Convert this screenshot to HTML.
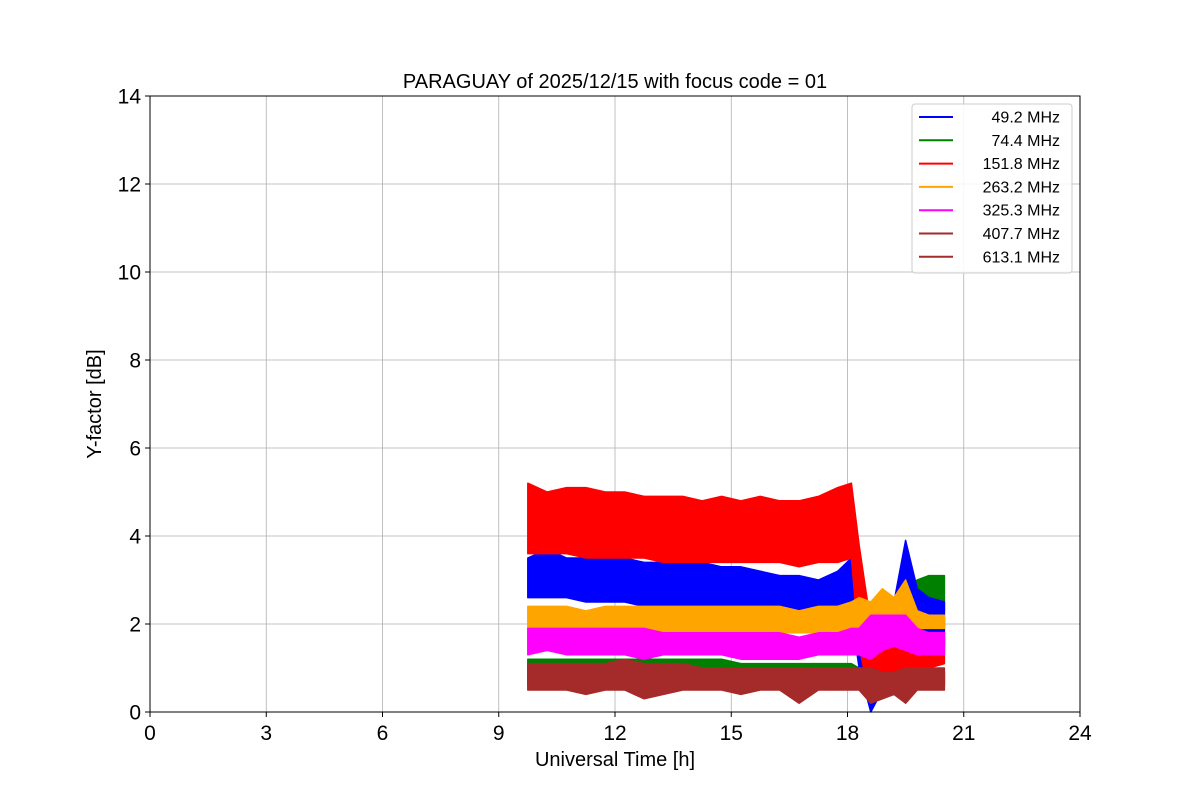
<!DOCTYPE html>
<html><head><meta charset="utf-8"><style>
body{margin:0;background:#fff;}
svg text{font-family:"Liberation Sans","DejaVu Sans",sans-serif;}
</style></head><body>
<svg width="1200" height="800" xmlns="http://www.w3.org/2000/svg">
<rect width="1200" height="800" fill="#fff"/>
<g id="grid"></g>
<g id="series"></g>
<rect x="150" y="96" width="930" height="616" fill="none" stroke="#000" stroke-width="1"/>
<g id="ticks"></g>
<text x="615" y="88" text-anchor="middle" font-size="20">PARAGUAY of 2025/12/15 with focus code = 01</text>
<text x="615" y="766" text-anchor="middle" font-size="20">Universal Time [h]</text>
<text x="101" y="404" text-anchor="middle" font-size="20" transform="rotate(-90 101 404)">Y-factor [dB]</text>
<g id="legend"></g>
</svg>
<script>
const xTicks=[0,3,6,9,12,15,18,21,24];
const yTicks=[0,2,4,6,8,10,12,14];
const seriesNames=[" 49.2 MHz"," 74.4 MHz","151.8 MHz","263.2 MHz","325.3 MHz","407.7 MHz","613.1 MHz"];
const seriesColors=["blue","green","red","orange","magenta","brown","brown"];
const times=[9.75,10.25,10.75,11.25,11.75,12.25,12.75,13.25,13.75,14.25,14.75,15.25,15.75,16.25,16.75,17.25,17.75,18.1,18.3,18.6,18.9,19.2,19.5,19.8,20.1,20.5];
const blueLo=[2.6,2.6,2.6,2.5,2.5,2.5,2.4,2.4,2.4,2.4,2.3,2.3,2.2,2.2,2.1,2.1,2.1,2.2,1.0,0.0,0.5,1.0,1.2,1.5,1.6,1.5];
const blueHi=[3.5,3.7,3.5,3.5,3.6,3.5,3.4,3.4,3.4,3.4,3.3,3.3,3.2,3.1,3.1,3.0,3.2,3.5,3.0,1.2,2.7,2.5,3.9,2.8,2.6,2.5];
const greenLo=[0.9,0.9,0.9,0.9,0.9,0.9,0.8,0.8,0.8,0.8,0.8,0.8,0.8,0.7,0.7,0.7,0.7,0.7,0.6,0.3,0.6,0.8,1.2,2.0,2.2,2.3];
const greenHi=[1.2,1.2,1.2,1.2,1.2,1.2,1.2,1.2,1.2,1.2,1.2,1.1,1.1,1.1,1.1,1.1,1.1,1.1,1.0,1.2,1.6,2.0,2.8,3.0,3.1,3.1];
const redLo=[3.6,3.6,3.6,3.5,3.5,3.5,3.5,3.4,3.4,3.4,3.4,3.4,3.4,3.4,3.3,3.4,3.4,3.5,1.5,0.2,0.8,0.9,1.0,1.0,1.0,1.1];
const redHi=[5.2,5.0,5.1,5.1,5.0,5.0,4.9,4.9,4.9,4.8,4.9,4.8,4.9,4.8,4.8,4.9,5.1,5.2,3.8,2.0,2.3,1.8,2.2,1.8,1.7,1.7];
const orangeLo=[1.9,1.9,1.9,1.9,1.8,1.9,1.9,1.8,1.8,1.8,1.8,1.8,1.7,1.8,1.8,1.8,1.8,1.8,1.9,2.0,2.0,2.0,2.1,1.9,1.9,1.9];
const orangeHi=[2.4,2.4,2.4,2.3,2.4,2.4,2.4,2.4,2.4,2.4,2.4,2.4,2.4,2.4,2.3,2.4,2.4,2.5,2.6,2.5,2.8,2.6,3.0,2.3,2.2,2.2];
const magentaLo=[1.3,1.4,1.3,1.3,1.3,1.3,1.2,1.3,1.3,1.3,1.3,1.2,1.2,1.2,1.2,1.3,1.3,1.3,1.3,1.2,1.4,1.5,1.4,1.3,1.3,1.3];
const magentaHi=[1.9,1.9,1.9,1.9,1.9,1.9,1.9,1.8,1.8,1.8,1.8,1.8,1.8,1.8,1.7,1.8,1.8,1.9,1.9,2.2,2.2,2.2,2.2,1.9,1.8,1.8];
const b1Lo=[0.5,0.5,0.5,0.4,0.5,0.5,0.3,0.4,0.5,0.5,0.5,0.4,0.5,0.5,0.2,0.5,0.5,0.5,0.5,0.2,0.3,0.4,0.2,0.5,0.5,0.5];
const b1Hi=[1.1,1.1,1.1,1.1,1.1,1.2,1.1,1.1,1.1,1.0,1.0,1.0,1.0,1.0,1.0,1.0,1.0,1.0,1.0,1.0,0.9,0.9,1.0,1.0,1.0,1.0];
const b2Lo=[0.6,0.6,0.6,0.6,0.6,0.6,0.5,0.6,0.6,0.6,0.6,0.6,0.6,0.6,0.5,0.6,0.6,0.6,0.6,0.3,0.4,0.5,0.3,0.6,0.6,0.6];
const b2Hi=[1.0,1.0,1.0,1.0,1.0,1.1,1.0,1.0,1.0,1.0,1.0,0.9,0.9,0.9,0.9,0.9,0.9,0.9,0.9,0.9,0.8,0.8,0.9,0.9,0.9,0.9];
const los=[blueLo,greenLo,redLo,orangeLo,magentaLo,b1Lo,b2Lo];
const his=[blueHi,greenHi,redHi,orangeHi,magentaHi,b1Hi,b2Hi];
const order=[1,0,2,3,4,5,6];
const X0=150,X1=1080,Y0=712,Y1=96;
const xs=v=>X0+(v-0)/24*(X1-X0);
const ys=v=>Y0-(v-0)/14*(Y0-Y1);
const NS="http://www.w3.org/2000/svg";
function mk(t,a,p){const e=document.createElementNS(NS,t);for(const k in a)e.setAttribute(k,a[k]);p.appendChild(e);return e;}
const grid=document.getElementById('grid'),ticks=document.getElementById('ticks');
xTicks.forEach(v=>{
 const g=mk('line',{x1:xs(v),x2:xs(v),y1:Y1,y2:Y0,stroke:'#b0b0b0','stroke-width':0.8},grid);
 
 
 const t=mk('line',{x1:xs(v),x2:xs(v),y1:Y0,y2:Y0+5,stroke:'#000'},ticks);
 
 
 const l=mk('text',{x:xs(v),y:Y0+28,'text-anchor':'middle','font-size':21},ticks);l.textContent=v;
 
 
});
yTicks.forEach(v=>{
 const g=mk('line',{x1:X0,x2:X1,y1:ys(v),y2:ys(v),stroke:'#b0b0b0','stroke-width':0.8},grid);
 
 
 const t=mk('line',{x1:X0-5,x2:X0,y1:ys(v),y2:ys(v),stroke:'#000'},ticks);
 
 
 const l=mk('text',{x:X0-9,y:ys(v)+7.5,'text-anchor':'end','font-size':21},ticks);l.textContent=v;
 
 
});
const ser=document.getElementById('series');
order.forEach(i=>{
 const lo=los[i],hi=his[i];let pts=[];
 for(let k=0;k<times.length;k++)pts.push(xs(times[k]).toFixed(1)+','+ys(hi[k]).toFixed(1));
 for(let k=times.length-1;k>=0;k--)pts.push(xs(times[k]).toFixed(1)+','+ys(lo[k]).toFixed(1));
 const p=mk('polygon',{points:pts.join(' '),fill:seriesColors[i],stroke:seriesColors[i],'stroke-width':1.5,'stroke-linejoin':'round'},ser);
 
 
});
const leg=document.getElementById('legend');
const box=mk('rect',{x:912,y:104,width:160,height:169,rx:3,fill:'#fff','fill-opacity':0.85,stroke:'#ccc'},leg);


seriesNames.forEach((n,i)=>{
 const y=117+i*23.3;
 const l=mk('line',{x1:919,x2:953,y1:y,y2:y,stroke:seriesColors[i],'stroke-width':2},leg);
 
 
 const t=mk('text',{x:1060,y:y+5.5,'text-anchor':'end','font-size':16,'xml:space':'preserve'},leg);t.textContent=n;
 
 
});
</script>
</body></html>
